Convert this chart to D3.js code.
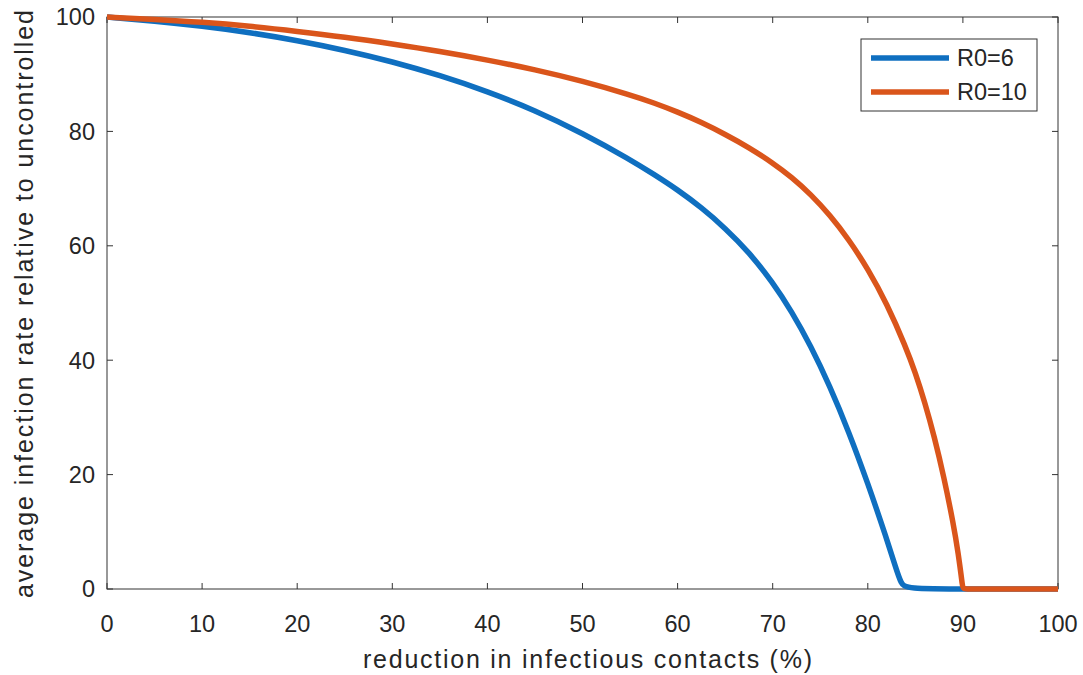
<!DOCTYPE html>
<html>
<head>
<meta charset="utf-8">
<script src="https://cdn.jsdelivr.net/npm/d3@7"></script>
<style>
  body { margin: 0; background: #fff; }
  text { font-family: "Liberation Sans", Arial, sans-serif; fill: #262626; }
</style>
</head>
<body>
<svg id="chart" width="1083" height="675"></svg>
<script>
// reduction in infectious contacts (%) vs average infection rate relative to uncontrolled
const xR6 = [0, 5, 10, 15, 20, 25, 30, 35, 40, 45, 50, 55, 57.5, 60, 62.5, 65, 67.5, 70, 72, 74, 76, 78, 80, 82, 83, 83.5, 84, 90, 100];
const yR6 = [100, 99.3, 98.4, 97.3, 95.9, 94.2, 92.2, 89.8, 87.0, 83.7, 79.7, 75.1, 72.5, 69.8, 66.7, 63.1, 58.9, 53.6, 48.5, 42.5, 35.5, 27.5, 18.5, 8.7, 3.4, 1.0, 0, 0, 0];

const xR10 = [0, 5, 10, 15, 20, 25, 30, 35, 40, 45, 50, 55, 57.5, 60, 62.5, 65, 67.5, 70, 72, 74, 76, 78, 80, 82, 84, 85, 86, 87, 88, 89, 89.5, 90, 90, 95, 100];
const yR10 = [100, 99.6, 99.1, 98.4, 97.5, 96.5, 95.3, 94.0, 92.5, 90.8, 88.8, 86.4, 85.0, 83.4, 81.6, 79.5, 77.2, 74.5, 72.0, 69.0, 65.4, 61.1, 56.0, 49.9, 42.3, 37.8, 32.6, 26.6, 19.6, 11.4, 6.4, 0, 0, 0, 0];

const seriesNames = ["R0=6", "R0=10"];
const seriesColors = ["#0F6FC0", "#DA551B"];
const xTicks = [0, 10, 20, 30, 40, 50, 60, 70, 80, 90, 100];
const yTicks = [0, 20, 40, 60, 80, 100];

function drawChart() {
  const svg = d3.select('#chart');
  const left = 107, right = 1058, top = 17, bottom = 589;

  const x = d3.scaleLinear().domain([0, 100]).range([left, right]);
  const y = d3.scaleLinear().domain([0, 100]).range([bottom, top]);

  const axisColor = '#333';

  // box
  svg.append('rect')
    .attr('x', left).attr('y', top)
    .attr('width', right - left).attr('height', bottom - top)
    .style('fill', 'none')
    .style('stroke', axisColor)
    .style('stroke-width', 1);

  // inward ticks on all four sides
  const tickLen = 6;
  xTicks.forEach(t => {
    svg.append('line').attr('x1', x(t)).attr('x2', x(t)).attr('y1', bottom).attr('y2', bottom - tickLen)
      .style('stroke', axisColor);
    svg.append('line').attr('x1', x(t)).attr('x2', x(t)).attr('y1', top).attr('y2', top + tickLen)
      .style('stroke', axisColor);
    svg.append('text')
      .attr('x', x(t)).attr('y', bottom + 43)
      .attr('text-anchor', 'middle')
      .attr('font-size', '23.5px')
      .text(t);
  });
  yTicks.forEach(t => {
    svg.append('line').attr('x1', left).attr('x2', left + tickLen).attr('y1', y(t)).attr('y2', y(t))
      .style('stroke', axisColor);
    svg.append('line').attr('x1', right).attr('x2', right - tickLen).attr('y1', y(t)).attr('y2', y(t))
      .style('stroke', axisColor);
    svg.append('text')
      .attr('x', left - 12).attr('y', y(t))
      .attr('dy', '0.36em')
      .attr('text-anchor', 'end')
      .attr('font-size', '23.5px')
      .text(t);
  });

  // axis labels
  svg.append('text')
    .attr('x', 363).attr('y', 668)
    .attr('font-size', '25px')
    .attr('textLength', 449)
    .attr('lengthAdjust', 'spacing')
    .text('reduction in infectious contacts (%)');

  svg.append('text')
    .attr('transform', 'translate(33,598) rotate(-90)')
    .attr('font-size', '25px')
    .attr('textLength', 588)
    .attr('lengthAdjust', 'spacing')
    .text('average infection rate relative to uncontrolled');

  // curves
  const line = d3.line()
    .x(d => x(d[0]))
    .y(d => y(d[1]))
    .curve(d3.curveBasis);

  const series = [
    xR6.map((v, i) => [v, yR6[i]]),
    xR10.map((v, i) => [v, yR10[i]])
  ];

  series.forEach((s, i) => {
    svg.append('path')
      .datum(s)
      .attr('d', line)
      .style('fill', 'none')
      .style('stroke', seriesColors[i])
      .style('stroke-width', 5.5)
      .style('stroke-linejoin', 'round');
  });

  // legend
  const lg = svg.append('g');
  lg.append('rect')
    .attr('x', 861).attr('y', 39)
    .attr('width', 176).attr('height', 72)
    .style('fill', '#fff')
    .style('stroke', axisColor)
    .style('stroke-width', 1);

  seriesNames.forEach((name, i) => {
    const ly = 58 + i * 34;
    lg.append('line')
      .attr('x1', 871).attr('x2', 949)
      .attr('y1', ly).attr('y2', ly)
      .style('stroke', seriesColors[i])
      .style('stroke-width', 5.5);
    lg.append('text')
      .attr('x', 957).attr('y', ly)
      .attr('dy', '0.36em')
      .attr('font-size', '23.5px')
      .text(name);
  });
}

drawChart();
</script>
</body>
</html>
